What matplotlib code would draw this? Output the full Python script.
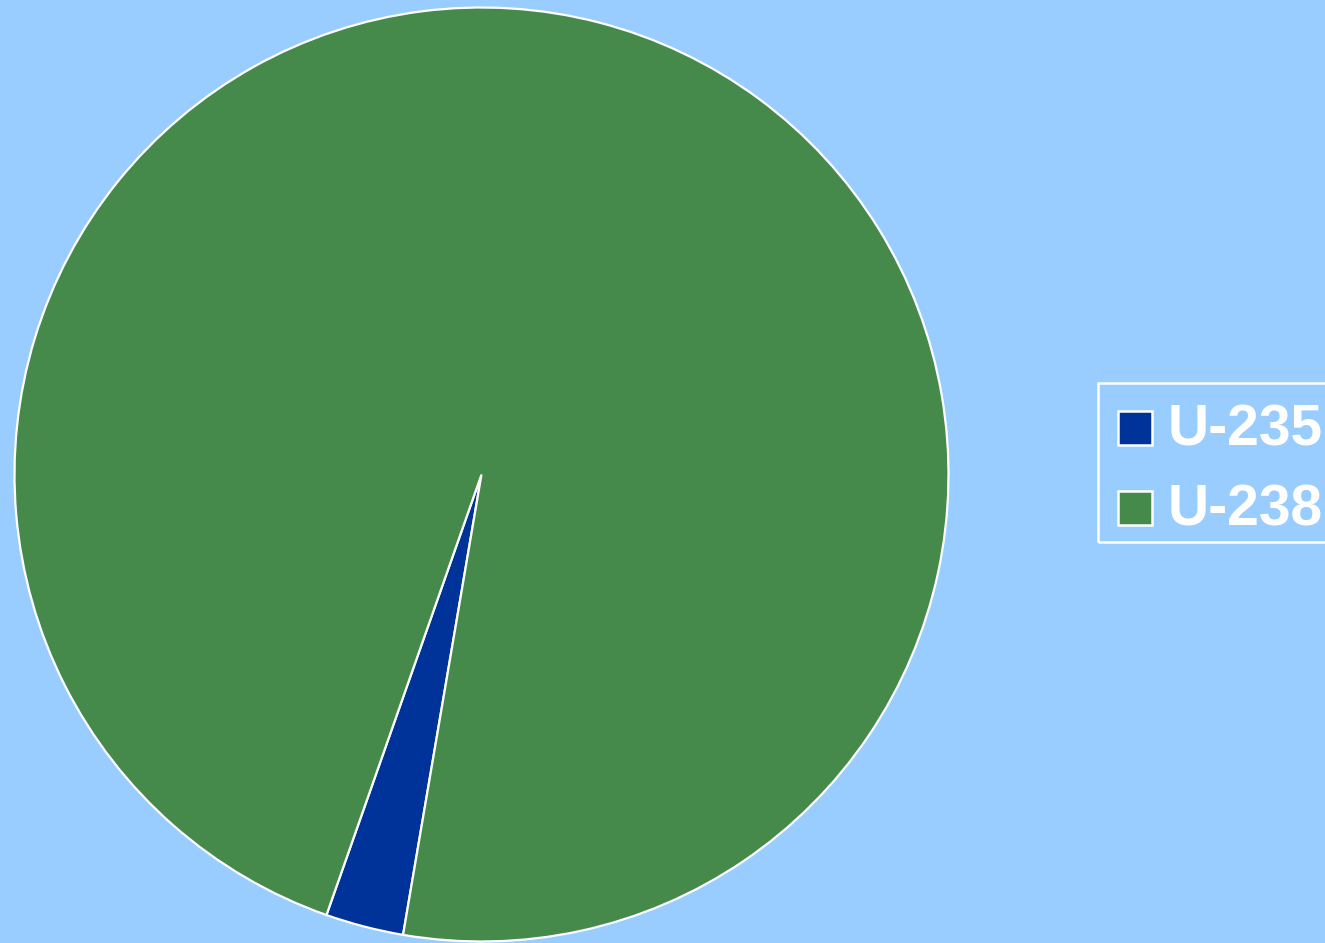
import matplotlib
matplotlib.use("Agg")
import matplotlib.pyplot as plt
from matplotlib.patches import Rectangle

labels = ["U-235", "U-238"]
values = [2.7, 97.3]
colors = ["#003399", "#468A4B"]
bg = "#99CCFF"

W, H = 1325, 943
fig = plt.figure(figsize=(W/100, H/100), dpi=100, facecolor=bg)

cx, cy, r = 481.5, 474.5, 467
ax = fig.add_axes([(cx - r)/W, (H - cy - r)/H, 2*r/W, 2*r/H])
ax.set_facecolor(bg)
ax.pie(values, colors=colors, startangle=260.33, counterclock=False, radius=1,
       wedgeprops=dict(edgecolor="white", linewidth=1.6))
ax.set_xlim(-1.0, 1.0)
ax.set_ylim(-1.0, 1.0)
ax.set_aspect("equal")
ax.axis("off")
for p in ax.patches:
    p.set_clip_on(False)

def fx(px):
    return px / W

def fy(py):
    return 1 - py / H

# legend frame
fig.patches.append(Rectangle((fx(1098), fy(542)), fx(1340) - fx(1098), fy(383) - fy(542),
                             transform=fig.transFigure, fill=False, edgecolor="white",
                             linewidth=1.8, figure=fig))
rows = [428, 508]
for lab, col, yc in zip(labels, colors, rows):
    fig.patches.append(Rectangle((fx(1118), fy(yc + 17)), fx(34), 34 / H,
                                 transform=fig.transFigure, facecolor=col, edgecolor="white",
                                 linewidth=1.8, figure=fig))
    fig.text(fx(1168), fy(yc + 2), lab, color="white", fontsize=41, fontweight="bold",
             family="Liberation Sans", va="center", ha="left")

fig.savefig("out.png", dpi=100, facecolor=bg)
